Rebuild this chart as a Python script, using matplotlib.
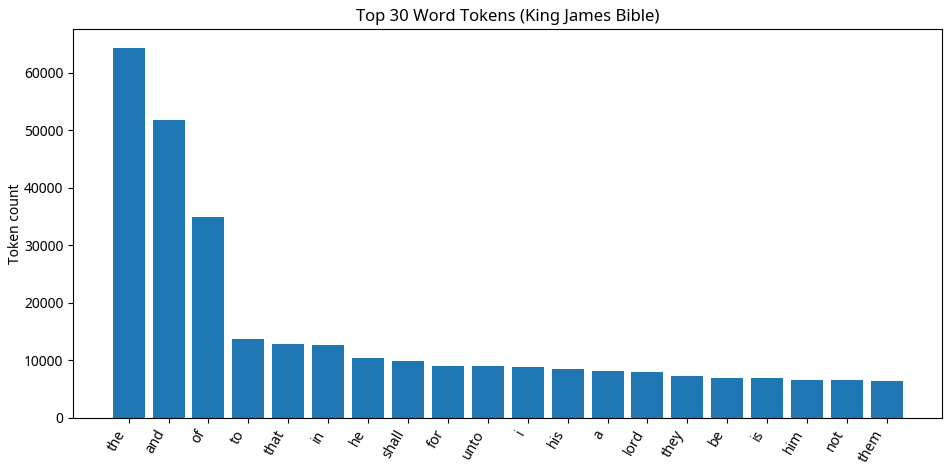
import matplotlib
matplotlib.use('Agg')
import matplotlib.pyplot as plt

words = ['the', 'and', 'of', 'to', 'that', 'in', 'he', 'shall', 'for', 'unto',
         'i', 'his', 'a', 'lord', 'they', 'be', 'is', 'him', 'not', 'them']
counts = [64400, 51870, 34990, 13750, 12880, 12710, 10440, 9920, 9050, 9010,
          8880, 8530, 8180, 8010, 7310, 6960, 6950, 6610, 6600, 6440]

if __name__ == '__main__':
    matplotlib.rcParams['font.family'] = ['Noto Sans', 'DejaVu Sans']
    matplotlib.rcParams['font.size'] = 10

    fig = plt.figure(figsize=(9.5, 4.7), dpi=100)
    ax = fig.add_axes([0.077, 0.111, 0.915, 0.827])
    ax.bar(range(len(words)), counts, color='#1f77b4')
    ax.set_xticks(range(len(words)))
    ax.set_xticklabels(words, rotation=60, ha='right')
    ax.set_ylabel('Token count', labelpad=1)
    ax.set_title('Top 30 Word Tokens (King James Bible)')
    fig.savefig('out.png', dpi=100)
